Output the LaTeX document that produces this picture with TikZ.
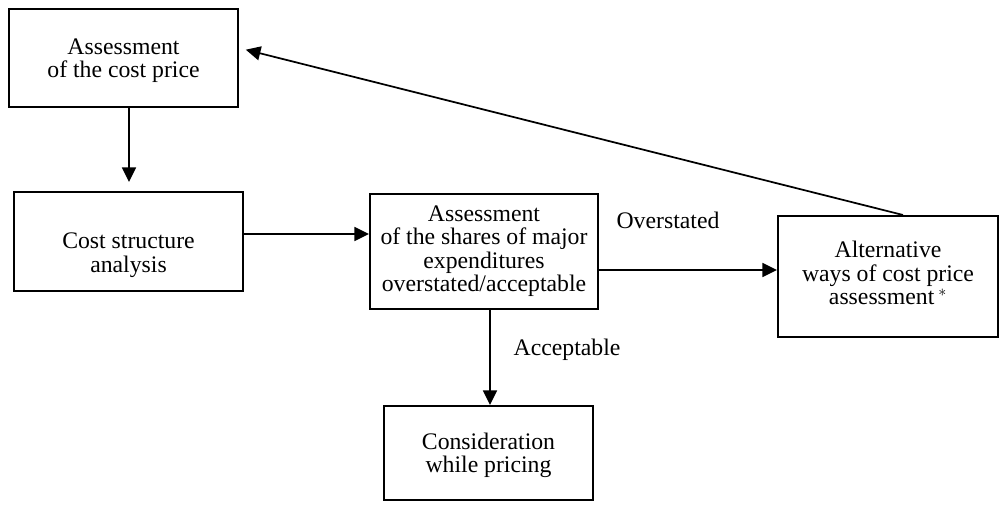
\documentclass[tikz,border=0pt]{standalone}
\usepackage{fontspec}
\setmainfont{Liberation Serif}
\usetikzlibrary{arrows.meta,calc}
\begin{document}
\begin{tikzpicture}[x=0.75pt,y=-0.75pt,
  box/.style={draw,line width=1.5pt,inner sep=0pt},
  boxtext/.style={align=center,inner sep=0pt,
    font=\fontsize{17.8}{17.6}\selectfont},
  arr/.style={line width=1.3pt,-{Triangle[length=11pt,width=10.5pt]}},
  lbl/.style={font=\fontsize{17.8}{17.6}\selectfont}]
\useasboundingbox (0,0) rectangle (1000,505);
\node[box,minimum width=229*0.75pt,minimum height=98*0.75pt] (A) at (123.5,58) {};
\node[boxtext] (At) at (123.5,60.5) {Assessment\\of the cost price};
\node[box,minimum width=229*0.75pt,minimum height=99*0.75pt] (B) at (128.5,241.5) {};
\node[boxtext] (Bt) at (128.5,255) {Cost structure\\analysis};
\node[box,minimum width=228*0.75pt,minimum height=115*0.75pt] (C) at (484,251.5) {};
\node[boxtext] (Ct) at (484,251) {Assessment\\of the shares of major\\expenditures\\overstated/acceptable};
\node[box,minimum width=220*0.75pt,minimum height=121*0.75pt] (D) at (888,276.5) {};
\node[boxtext] (Dt) at (888,273) {Alternative\\ways of cost price\\assessment\,$^{*}$};
\node[box,minimum width=209*0.75pt,minimum height=94*0.75pt] (E) at (488.5,453) {};
\node[boxtext] (Et) at (488.5,455.5) {Consideration\\while pricing};
\node[lbl] (over) at (668,220) {Overstated};
\node[lbl] (acc) at (567,350) {Acceptable};
\draw[arr,shorten >=6.75pt] (A.south -| 129,0) -- (B.north -| 129,0);
\draw[arr] (B.east |- 0,234) -- (C.west |- 0,234);
\draw[arr] (C.east |- 0,270) -- (D.west |- 0,270);
\draw[arr] (C.south -| 490,0) -- (E.north -| 490,0);
\draw[arr,shorten >=5.25pt] (D.north -| 903,0) -- ($(A.east)+(0,-10)$);
\end{tikzpicture}
\end{document}
